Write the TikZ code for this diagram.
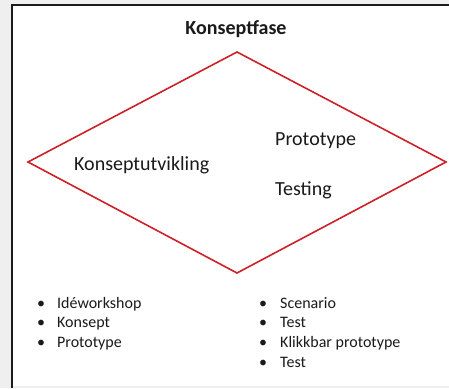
\documentclass[tikz,border=0pt]{standalone}
\usepackage{fontspec}
\setmainfont{Carlito}
\usepackage{tikz}

\definecolor{fasered}{RGB}{206,32,40}
\definecolor{tekst}{RGB}{26,26,26}
\definecolor{ramme}{RGB}{239,239,239}

\tikzset{
  fasetekst/.style={anchor=base west, inner sep=0pt, text=tekst, font=\fontsize{20}{24}\selectfont},
  listetekst/.style={anchor=base west, inner sep=0pt, text=tekst, font=\fontsize{16}{19}\selectfont},
  kulepunkt/.style={anchor=base, inner sep=0pt, text=tekst, font=\fontsize{16}{19}\selectfont}
}

\begin{document}
\begin{tikzpicture}[x=1pt, y=-1pt]
\useasboundingbox (0,0) rectangle (449,388);
\fill[ramme] (0,0) rectangle (449,388);
\fill[white] (12,5) rectangle (449,386);
\draw[line width=2.5pt, tekst] (12,388)--(12,5)--(449,5);

\coordinate (v) at (28,162);
\coordinate (o) at (237,52);
\coordinate (h) at (446,162);
\coordinate (n) at (237,273);
\draw[fasered, line width=1.6pt, line join=miter] (v)--(o)--(h)--(n)--cycle;

\node (tittel) [anchor=base, inner sep=0pt, text=tekst, font=\fontsize{20}{24}\selectfont\bfseries] at (236,34) {Konseptfase};
\node (utvikling) [fasetekst] at (74,170.5) {Konseptutvikling};
\node (prototype) [fasetekst] at (275,145.3) {Prototype};
\node (testing) [fasetekst] at (275,195.3) {Testing};

% venstre liste
\node (b1) [kulepunkt] at (41,308) {•};
\node (b2) [kulepunkt] at (41,327.7) {•};
\node (b3) [kulepunkt] at (41,347.3) {•};
\node (ide) [listetekst] at (57,308) {Idéworkshop};
\node (konsept) [listetekst] at (57,327.7) {Konsept};
\node (proto) [listetekst] at (57,347.3) {Prototype};

% hoyre liste
\node (c1) [kulepunkt] at (263,308) {•};
\node (c2) [kulepunkt] at (263,327.7) {•};
\node (c3) [kulepunkt] at (263,347.3) {•};
\node (c4) [kulepunkt] at (263,367) {•};
\node (scenario) [listetekst] at (280,308) {Scenario};
\node (test) [listetekst] at (280,327.7) {Test};
\node (klikkbar) [listetekst] at (280,347.3) {Klikkbar prototype};
\node (test2) [listetekst] at (280,367) {Test};
\end{tikzpicture}
\end{document}
